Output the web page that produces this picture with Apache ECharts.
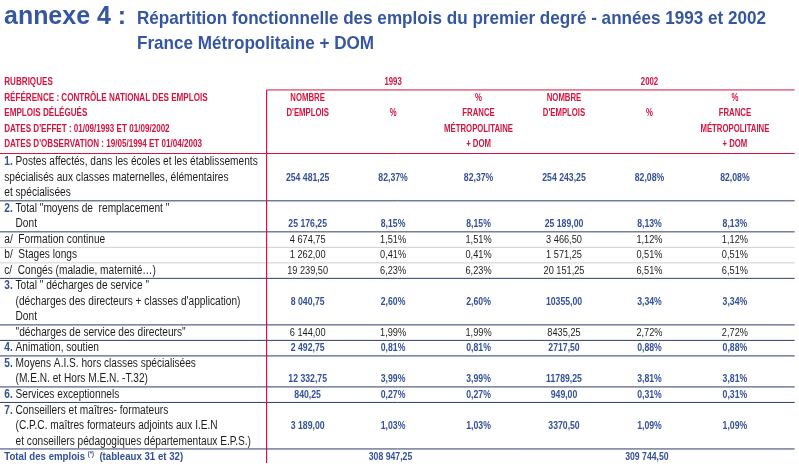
<!DOCTYPE html>
<html><head><meta charset="utf-8">
<script src="https://cdn.jsdelivr.net/npm/echarts@6/dist/echarts.min.js"></script>
<style>html,body{margin:0;padding:0;background:#fff}#c{width:799px;height:473px}</style>
</head><body><div id="c"></div>
<script>
// ---------- DATA ----------
const titleMain = 'annexe 4 :';
const titleSub = ['Répartition fonctionnelle des emplois du premier degré - années 1993 et 2002', 'France Métropolitaine + DOM'];
const years = ['1993', '2002'];
const headerLeft = ['RUBRIQUES', 'RÉFÉRENCE : CONTRÔLE NATIONAL DES EMPLOIS', 'EMPLOIS DÉLÉGUÉS', "DATES D'EFFET : 01/09/1993 ET 01/09/2002", "DATES D'OBSERVATION : 19/05/1994 ET 01/04/2003"];
const columnHeaders = [['', 'NOMBRE', "D'EMPLOIS"], ['', '', '%'], ['', '%', 'FRANCE', 'MÉTROPOLITAINE', '+ DOM']];
const categories = [
  '1. Postes affectés, dans les écoles et les établissements\nspécialisés aux classes maternelles, élémentaires\net spécialisées',
  '2. Total "moyens de  remplacement "\n    Dont',
  'a/  Formation continue',
  'b/  Stages longs',
  'c/  Congés (maladie, maternité…)',
  '3. Total " décharges de service "\n    (décharges des directeurs + classes d\'application)\n    Dont',
  '    "décharges de service des directeurs"',
  '4. Animation, soutien',
  '5. Moyens A.I.S. hors classes spécialisées\n    (M.E.N. et Hors M.E.N. -T.32)',
  '6. Services exceptionnels',
  '7. Conseillers et maîtres- formateurs\n    (C.P.C. maîtres formateurs adjoints aux I.E.N\n    et conseillers pédagogiques départementaux E.P.S.)'
];
const mainRows = [true, true, false, false, false, true, false, true, true, true, true];
const nombre1993 = ['254 481,25', '25 176,25', '4 674,75', '1 262,00', '19 239,50', '8 040,75', '6 144,00', '2 492,75', '12 332,75', '840,25', '3 189,00'];
const pct1993 = [82.37, 8.15, 1.51, 0.41, 6.23, 2.60, 1.99, 0.81, 3.99, 0.27, 1.03];
const pctFrance1993 = [82.37, 8.15, 1.51, 0.41, 6.23, 2.60, 1.99, 0.81, 3.99, 0.27, 1.03];
const nombre2002 = ['254 243,25', '25 189,00', '3 466,50', '1 571,25', '20 151,25', '10355,00', '8435,25', '2717,50', '11789,25', '949,00', '3370,50'];
const pct2002 = [82.08, 8.13, 1.12, 0.51, 6.51, 3.34, 2.72, 0.88, 3.81, 0.31, 1.09];
const pctFrance2002 = [82.08, 8.13, 1.12, 0.51, 6.51, 3.34, 2.72, 0.88, 3.81, 0.31, 1.09];
const totalLabel = ['Total des emplois ', '(*)', '  (tableaux 31 et 32)'];
const totals = ['308 947,25', '309 744,50'];

// ---------- LAYOUT / STYLE ----------
const FONT = "'Liberation Sans', Arial, sans-serif";
const RED = '#d4143f', BLUE = '#33509a', TBLUE = '#3556a0', INK = '#1c1c1c', NAVY = '#2f3d68', GREY = '#cfcfcf';
const X_MIN = -2.6, X_MAX = 6.75, X_TEXT = -2.55, X_VLINE = 0.52, X_END = 6.70;
const Y_MIN = -5.3, Y_MAX = 25.2, Y_DATA = 5.15;
const fmtPct = v => v.toFixed(2).replace('.', ',') + '%';

const STYLES = {
  head:  {fill: RED, fontWeight: 'bold', fontSize: 10.5, align: 'left', sx: 0.77},
  headC: {fill: RED, fontWeight: 'bold', fontSize: 10.5, align: 'center', sx: 0.74},
  label: {fill: INK, fontWeight: 'normal', fontSize: 12, align: 'left', sx: 0.845},
  valMain: {fill: BLUE, fontWeight: 'bold', fontSize: 11, align: 'center', sx: 0.79},
  valSub: {fill: INK, fontWeight: 'normal', fontSize: 11.5, align: 'center', sx: 0.8},
  totalLabel: {fill: BLUE, fontWeight: 'bold', fontSize: 11.5, align: 'left', sx: 0.84}
};
const RULES = [
  {c: NAVY, w: 1},   // 0 main separator
  {c: GREY, w: 1},   // 1 light separator
  {c: RED, w: 1},    // 2 header separator
  {c: RED, w: 1.2}   // 3 vertical
];

const cells = [];   // [x, y, text, style]
const rules = [];   // [x1, y1, x2, y2, ruleStyle]

headerLeft.forEach((t, i) => cells.push([X_TEXT, i, t, 'head']));
years.forEach((yr, b) => {
  cells.push([2 + 3 * b, 0, yr, 'headC']);
  columnHeaders.forEach((lines, c) => lines.forEach((t, k) => { if (t) cells.push([1 + 3 * b + c, k, t, 'headC']); }));
});
rules.push([X_VLINE, 0.5, X_END, 0.5, 2]);
rules.push([X_MIN, 4.6, X_END, 4.6, 2]);

const cols = [nombre1993, pct1993.map(fmtPct), pctFrance1993.map(fmtPct), nombre2002, pct2002.map(fmtPct), pctFrance2002.map(fmtPct)];
let y = Y_DATA;
categories.forEach((cat, i) => {
  const lines = cat.split('\n');
  lines.forEach((ln, k) => {
    const m = ln.match(/^(\d\.)(.*)$/);
    const txt = m ? '{n|' + m[1] + '}' + m[2] : ln;
    cells.push([X_TEXT, y + k, txt, 'label']);
  });
  const vy = y + Math.min(1, lines.length - 1);
  cols.forEach((col, c) => cells.push([1 + c, vy, col[i], mainRows[i] ? 'valMain' : 'valSub']));
  y += lines.length;
  const light = !mainRows[i] && i + 1 < categories.length && !mainRows[i + 1];
  rules.push([X_MIN, y - 0.5, X_END, y - 0.5, light ? 1 : 0]);
});
cells.push([X_TEXT, y, '{b|' + totalLabel[0] + '}{s|' + totalLabel[1] + '}{b|' + totalLabel[2] + '}', 'totalLabel']);
totals.forEach((t, b) => cells.push([2 + 3 * b - 0.03, y, t, 'valMain']));
rules.push([X_VLINE, 0.5, X_VLINE, y + 0.4, 3]);

const chart = echarts.init(document.getElementById('c'), null, {renderer: 'canvas'});
chart.setOption({
  animation: false,
  backgroundColor: '#ffffff',
  graphic: [
    {type: 'text', x: 4, y: 17, scaleX: 0.96, silent: true,
     style: {text: titleMain, fontFamily: FONT, fontSize: 26, fontWeight: 'bold', fill: TBLUE, verticalAlign: 'middle'}},
    {type: 'text', x: 137, y: 19, scaleX: 0.9, silent: true,
     style: {text: titleSub[0], fontFamily: FONT, fontSize: 19, fontWeight: 'bold', fill: TBLUE, verticalAlign: 'middle'}},
    {type: 'text', x: 137, y: 44, scaleX: 0.9, silent: true,
     style: {text: titleSub[1], fontFamily: FONT, fontSize: 19, fontWeight: 'bold', fill: TBLUE, verticalAlign: 'middle'}}
  ],
  grid: {left: 0, right: 0, top: 0, bottom: 0},
  xAxis: {type: 'value', min: X_MIN, max: X_MAX, show: false},
  yAxis: {type: 'value', min: Y_MIN, max: Y_MAX, inverse: true, show: false},
  series: [
    {
      type: 'custom', silent: true, clip: false,
      data: rules.map(r => [r[0], r[1], r[2], r[3]]),
      encode: {x: [0, 2], y: [1, 3]},
      renderItem: (params, api) => {
        const r = rules[params.dataIndex];
        const a = api.coord([r[0], r[1]]), b = api.coord([r[2], r[3]]);
        const st = RULES[r[4]];
        return {type: 'line', shape: {x1: a[0], y1: a[1], x2: b[0], y2: b[1]},
                style: {stroke: st.c, lineWidth: st.w}};
      }
    },
    {
      type: 'custom', silent: true, clip: false,
      data: cells.map(c => [c[0], c[1]]),
      encode: {x: 0, y: 1},
      renderItem: (params, api) => {
        const c = cells[params.dataIndex];
        const s = STYLES[c[3]];
        const p = api.coord([c[0], c[1]]);
        return {type: 'text', x: p[0], y: p[1], scaleX: s.sx,
          style: {text: c[2], fill: s.fill, fontFamily: FONT, fontWeight: s.fontWeight, fontSize: s.fontSize,
                  align: s.align, verticalAlign: 'middle',
                  rich: {
                    n: {fill: BLUE, fontFamily: FONT, fontWeight: 'bold', fontSize: s.fontSize},
                    b: {fill: BLUE, fontFamily: FONT, fontWeight: 'bold', fontSize: s.fontSize},
                    s: {fill: BLUE, fontFamily: FONT, fontWeight: 'bold', fontSize: 7, verticalAlign: 'top', padding: [0, 0, 5, 0]}
                  }}};
      }
    }
  ]
});
</script>
</body></html>
